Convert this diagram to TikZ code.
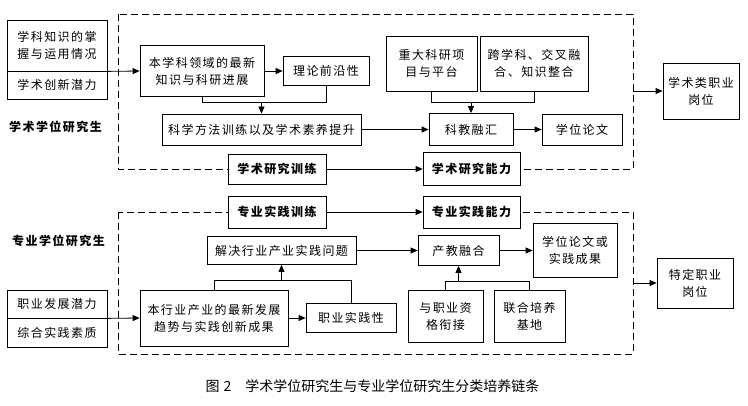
\documentclass[tikz,border=0pt]{standalone}
\usepackage{fontspec}
\newfontfamily\cjk[LetterSpace=12]{Noto Sans CJK SC}
\newfontfamily\cjklbl[LetterSpace=12]{Noto Sans CJK SC}
\newfontfamily\cjkcap{Noto Sans CJK SC}
\usetikzlibrary{arrows.meta}
\begin{document}
\begin{tikzpicture}[x=1pt,y=-1pt,
  box/.style={draw, line width=0.8pt, fill=white, inner sep=0pt, align=center, font=\cjk\fontsize{12}{17}\selectfont},
  bbox/.style={box, font=\cjk\bfseries\fontsize{12}{17}\selectfont},
  lbl/.style={inner sep=0pt, font=\cjklbl\bfseries\fontsize{12}{14}\selectfont},
  captxt/.style={inner sep=0pt, font=\cjkcap\fontsize{14}{16}\selectfont},
  arr/.style={-{Triangle[length=7pt,width=6pt]}, line width=0.8pt},
  ln/.style={line width=0.8pt},
  dsh/.style={line width=0.8pt, dash pattern=on 7pt off 4pt}]
\useasboundingbox (0,0) rectangle (748,406);
\fill[white] (0,0) rectangle (748,406);
% dashed frames
\draw[dsh] (118,14) rectangle (633,169);
\draw[dsh] (118,212) rectangle (633,354);
% upper part
\node[box, minimum width=100pt, minimum height=51pt] (L1t) at (57,45.5) {学科知识的掌\\握与运用情况};
\node[box, minimum width=100pt, minimum height=28pt] (L1b) at (57,85) {学术创新潜力};
\node[box, minimum width=124pt, minimum height=51pt] (A1) at (202,71) {本学科领域的最新\\知识与科研进展};
\node[box, minimum width=86pt, minimum height=29pt] (A2) at (326,71) {理论前沿性};
\node[box, minimum width=199pt, minimum height=31pt] (A3) at (261.5,129.5) {科学方法训练以及学术素养提升};
\node[bbox, minimum width=98pt, minimum height=30pt] (A4) at (277,169) {学术研究训练};
\node[box, minimum width=91pt, minimum height=55pt] (B1) at (431.5,63.5) {重大科研项\\目与平台};
\node[box, minimum width=108pt, minimum height=55pt] (B2) at (534,63.5) {跨学科、交叉融\\合、知识整合};
\node[box, minimum width=84pt, minimum height=32pt] (B3) at (471,129.5) {科教融汇};
\node[box, minimum width=80pt, minimum height=31pt] (B4) at (582,129.5) {学位论文};
\node[bbox, minimum width=97pt, minimum height=33pt] (B5) at (471.5,169) {学术研究能力};
\node[box, minimum width=76pt, minimum height=56pt] (R1) at (701,91) {学术类职业\\岗位};
\node[lbl] (T1) at (55.5,127) {学术学位研究生};
% lower part
\node[bbox, minimum width=98pt, minimum height=32pt] (C4) at (277,212) {专业实践训练};
\node[bbox, minimum width=97pt, minimum height=32pt] (C5) at (471.5,212) {专业实践能力};
\node[box, minimum width=149pt, minimum height=28pt] (C3) at (281.5,250.5) {解决行业产业实践问题};
\node[box, minimum width=81pt, minimum height=30pt] (D1) at (458.5,250.5) {产教融合};
\node[box, minimum width=84pt, minimum height=54pt] (D2) at (575,250.5) {学位论文或\\实践成果};
\node[box, minimum width=100pt, minimum height=28pt] (L2t) at (57,304) {职业发展潜力};
\node[box, minimum width=100pt, minimum height=29pt] (L2b) at (57,332.5) {综合实践素质};
\node[box, minimum width=148pt, minimum height=56pt] (C1) at (214,318) {本行业产业的最新发展\\趋势与实践创新成果};
\node[box, minimum width=90pt, minimum height=29pt] (C2) at (351,318) {职业实践性};
\node[box, minimum width=75pt, minimum height=52pt] (D3) at (445.5,316) {与职业资\\格衔接};
\node[box, minimum width=71pt, minimum height=52pt] (D4) at (529.5,316) {联合培养\\基地};
\node[box, minimum width=76pt, minimum height=50pt] (R2) at (695,283) {特定职业\\岗位};
\node[lbl] (T2) at (58.5,241) {专业学位研究生};
\node[captxt] (CAP) at (372.5,386) {图\hspace{0.3em}2\hspace{1em}学术学位研究生与专业学位研究生分类培养链条};
% connectors upper
\draw[arr] (L1t.south east) -- (A1.west);
\draw[arr] (A1.east) -- (A2.west);
\path (A3.north) ++(0,-11) coordinate (j1);
\draw[ln] (A1.south) |- (j1) -| (A2.south);
\draw[arr] (j1) -- (A3.north);
\path (B3.north) ++(0,-11) coordinate (j2);
\draw[ln] (B1.south) |- (j2) -| (B2.south);
\draw[arr] (j2) -- (B3.north);
\draw[arr] (A3.east) -- (B3.west);
\draw[arr] (B3.east) -- (B4.west);
\draw[arr] (A4.east) -- (B5.west);
\coordinate (u1) at (633,91);
\draw[arr] (u1) -- (R1.west);
% connectors lower
\draw[arr] (C4.east) -- (C5.west);
\draw[arr] (L2t.south east) -- (C1.west);
\draw[arr] (C1.east) -- (C2.west);
\path (C3.south) ++(0,16) coordinate (j3);
\draw[ln] (C1.north) |- (j3) -| (C2.north);
\draw[arr] (j3) -- (C3.south);
\draw[arr] (C3.east) -- (D1.west);
\draw[arr] (D1.east) -- (D2.west);
\path (D1.south) ++(0,16) coordinate (j4);
\draw[ln] (D3.north) |- (j4) -| (D4.north);
\draw[arr] (j4) -- (D1.south);
\coordinate (u2) at (633,283);
\draw[arr] (u2) -- (R2.west);
\end{tikzpicture}
\end{document}
